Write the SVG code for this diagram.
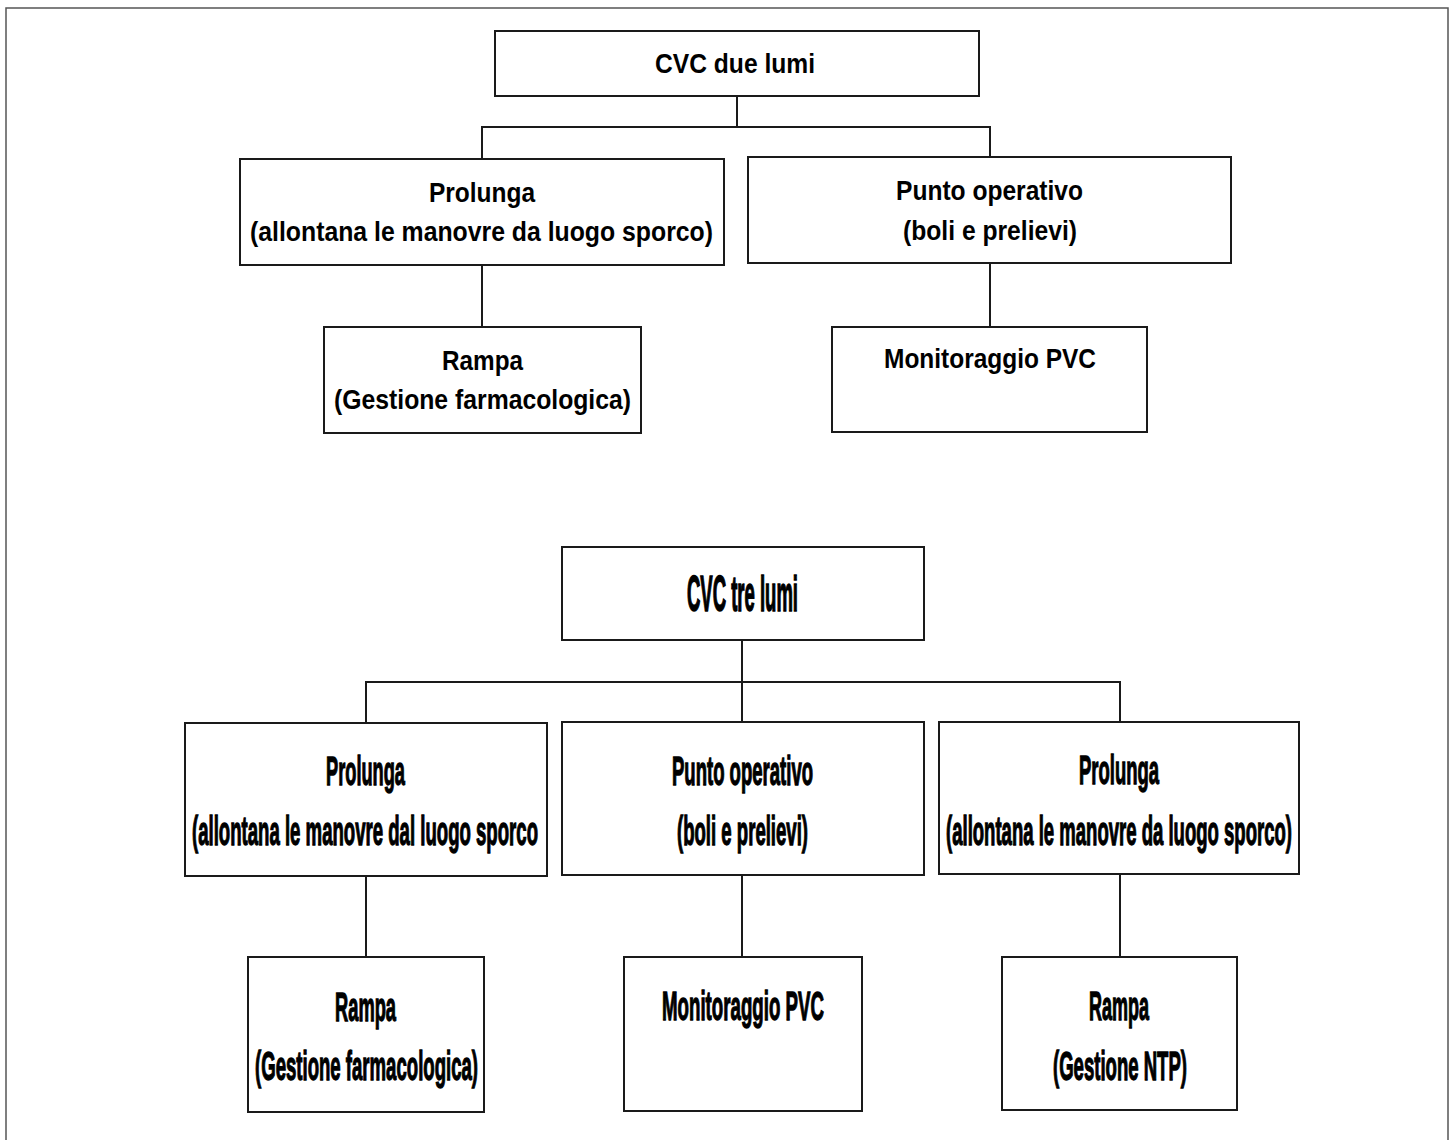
<svg xmlns="http://www.w3.org/2000/svg" width="1453" height="1140" viewBox="0 0 1453 1140">
<style>
.box{fill:#fff;stroke:#1a1a1a;stroke-width:2}
.conn{fill:none;stroke:#1a1a1a;stroke-width:2}
.frame{fill:none;stroke:#555;stroke-width:1.5}
.t{font-family:"Liberation Sans",Arial,sans-serif;font-weight:bold;fill:#000;text-anchor:middle}
.s{font-size:24.5px}
.n{font-size:18.5px;stroke:#000;stroke-width:0.6}
</style>
<rect width="1453" height="1140" fill="#fff"/>
<path class="frame" d="M6 1140 V8 H1448 V1140"/>
<g id="connectors">
<path class="conn" d="M737 96 V127"/>
<path class="conn" d="M482 159 V127 H990 V157"/>
<path class="conn" d="M482 265 V327"/>
<path class="conn" d="M990 263 V327"/>
<path class="conn" d="M742 640 V722"/>
<path class="conn" d="M366 723 V682 H1120 V722"/>
<path class="conn" d="M366 876 V957"/>
<path class="conn" d="M742 875 V957"/>
<path class="conn" d="M1120 874 V957"/>
</g>
<g id="cvc-due-lumi">
<rect class="box" x="495" y="31" width="484" height="65"/>
<text class="t s" transform="translate(735,73) scale(1,1.13)" textLength="160" lengthAdjust="spacingAndGlyphs">CVC due lumi</text>
</g>
<g id="prolunga-1">
<rect class="box" x="240" y="159" width="484" height="106"/>
<text class="t s" transform="translate(482,202) scale(1,1.13)" textLength="106" lengthAdjust="spacingAndGlyphs">Prolunga</text>
<text class="t s" transform="translate(481.5,241) scale(1,1.13)" textLength="463" lengthAdjust="spacingAndGlyphs">(allontana le manovre da luogo sporco)</text>
</g>
<g id="punto-1">
<rect class="box" x="748" y="157" width="483" height="106"/>
<text class="t s" transform="translate(989.5,200) scale(1,1.13)" textLength="187" lengthAdjust="spacingAndGlyphs">Punto operativo</text>
<text class="t s" transform="translate(990,240) scale(1,1.13)" textLength="174" lengthAdjust="spacingAndGlyphs">(boli e prelievi)</text>
</g>
<g id="rampa-1">
<rect class="box" x="324" y="327" width="317" height="106"/>
<text class="t s" transform="translate(482.5,370) scale(1,1.13)" textLength="81" lengthAdjust="spacingAndGlyphs">Rampa</text>
<text class="t s" transform="translate(482.5,409) scale(1,1.13)" textLength="297" lengthAdjust="spacingAndGlyphs">(Gestione farmacologica)</text>
</g>
<g id="monitoraggio-1">
<rect class="box" x="832" y="327" width="315" height="105"/>
<text class="t s" transform="translate(990,368) scale(1,1.13)" textLength="212" lengthAdjust="spacingAndGlyphs">Monitoraggio PVC</text>
</g>
<g id="cvc-tre-lumi">
<rect class="box" x="562" y="547" width="362" height="93"/>
<text class="t n" transform="translate(742.5,611) scale(1,2.67)" textLength="111" lengthAdjust="spacingAndGlyphs">CVC tre lumi</text>
</g>
<g id="prolunga-2">
<rect class="box" x="185" y="723" width="362" height="153"/>
<text class="t n" transform="translate(365.5,785) scale(1,2.15)" textLength="79" lengthAdjust="spacingAndGlyphs">Prolunga</text>
<text class="t n" transform="translate(365,845) scale(1,2.15)" textLength="346" lengthAdjust="spacingAndGlyphs">(allontana le manovre dal luogo sporco</text>
</g>
<g id="punto-2">
<rect class="box" x="562" y="722" width="362" height="153"/>
<text class="t n" transform="translate(742.5,785) scale(1,2.15)" textLength="141" lengthAdjust="spacingAndGlyphs">Punto operativo</text>
<text class="t n" transform="translate(742.5,845) scale(1,2.15)" textLength="131" lengthAdjust="spacingAndGlyphs">(boli e prelievi)</text>
</g>
<g id="prolunga-3">
<rect class="box" x="939" y="722" width="360" height="152"/>
<text class="t n" transform="translate(1119,784) scale(1,2.15)" textLength="80" lengthAdjust="spacingAndGlyphs">Prolunga</text>
<text class="t n" transform="translate(1119,845) scale(1,2.15)" textLength="346" lengthAdjust="spacingAndGlyphs">(allontana le manovre da luogo sporco)</text>
</g>
<g id="rampa-2">
<rect class="box" x="248" y="957" width="236" height="155"/>
<text class="t n" transform="translate(365.5,1021) scale(1,2.15)" textLength="61" lengthAdjust="spacingAndGlyphs">Rampa</text>
<text class="t n" transform="translate(366.5,1080) scale(1,2.15)" textLength="223" lengthAdjust="spacingAndGlyphs">(Gestione farmacologica)</text>
</g>
<g id="monitoraggio-2">
<rect class="box" x="624" y="957" width="238" height="154"/>
<text class="t n" transform="translate(743,1020) scale(1,2.15)" textLength="162" lengthAdjust="spacingAndGlyphs">Monitoraggio PVC</text>
</g>
<g id="rampa-3">
<rect class="box" x="1002" y="957" width="235" height="153"/>
<text class="t n" transform="translate(1119,1020) scale(1,2.15)" textLength="60" lengthAdjust="spacingAndGlyphs">Rampa</text>
<text class="t n" transform="translate(1120,1080) scale(1,2.15)" textLength="134" lengthAdjust="spacingAndGlyphs">(Gestione NTP)</text>
</g>
</svg>
